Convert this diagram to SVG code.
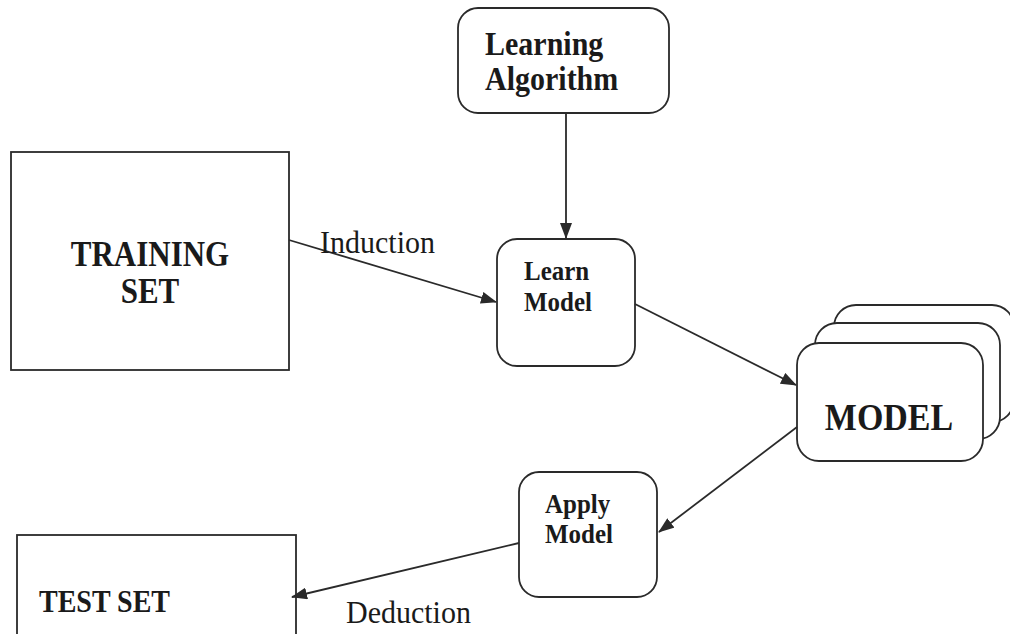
<svg xmlns="http://www.w3.org/2000/svg" width="1010" height="634" viewBox="0 0 1010 634">
<style>
.box{fill:#fff;stroke:#2a2a2a;stroke-width:1.8}
.edge{stroke:#2a2a2a;stroke-width:1.8;fill:none}
.b{font-family:"Liberation Serif",serif;font-weight:bold;fill:#1a1a1a}
.r{font-family:"Liberation Serif",serif;fill:#1a1a1a}
</style>
<defs>
<marker id="ah" viewBox="0 0 16 12" refX="15" refY="6" markerWidth="16" markerHeight="12" markerUnits="userSpaceOnUse" orient="auto">
<path d="M0,0 L16,6 L0,12 Z" fill="#2a2a2a"/>
</marker>
</defs>
<rect width="1010" height="634" fill="#fff"/>
<g id="learning-algorithm">
<rect class="box" x="458" y="8" width="211" height="105" rx="20"/>
<text class="b" transform="translate(485,55) scale(1,1.12)" font-size="30">Learning</text>
<text class="b" transform="translate(485,90) scale(1,1.12)" font-size="30">Algorithm</text>
</g>
<g id="training-set">
<rect class="box" x="11" y="152" width="278" height="218"/>
<text class="b" transform="translate(150,266) scale(1,1.15)" font-size="31" text-anchor="middle">TRAINING</text>
<text class="b" transform="translate(150,303) scale(1,1.15)" font-size="31" text-anchor="middle">SET</text>
</g>
<g id="learn-model">
<rect class="box" x="497" y="239" width="138" height="127" rx="20"/>
<text class="b" transform="translate(524,280) scale(1,1.12)" font-size="25">Learn</text>
<text class="b" transform="translate(524,311) scale(1,1.12)" font-size="25">Model</text>
</g>
<g id="model">
<rect class="box" x="834" y="305" width="180" height="117" rx="22"/>
<rect class="box" x="815" y="323" width="185" height="116" rx="22"/>
<rect class="box" x="797" y="343" width="186" height="118" rx="22"/>
<text class="b" transform="translate(889,430) scale(1,1.12)" font-size="34" text-anchor="middle">MODEL</text>
</g>
<g id="apply-model">
<rect class="box" x="519" y="472" width="138" height="125" rx="20"/>
<text class="b" transform="translate(545,513) scale(1,1.12)" font-size="25">Apply</text>
<text class="b" transform="translate(545,543) scale(1,1.12)" font-size="25">Model</text>
</g>
<g id="test-set">
<rect class="box" x="17" y="535" width="279" height="110"/>
<text class="b" transform="translate(39,612) scale(1,1.12)" font-size="28">TEST SET</text>
</g>
<g id="connectors">
<line class="edge" x1="566" y1="113" x2="566" y2="238" marker-end="url(#ah)"/>
<line class="edge" x1="289" y1="240" x2="496" y2="302" marker-end="url(#ah)"/>
<line class="edge" x1="635" y1="304" x2="796" y2="385" marker-end="url(#ah)"/>
<line class="edge" x1="797" y1="427" x2="659" y2="532" marker-end="url(#ah)"/>
<line class="edge" x1="519" y1="543" x2="292" y2="597" marker-end="url(#ah)"/>
<text class="r" transform="translate(320,253) scale(1,1.08)" font-size="30">Induction</text>
<text class="r" transform="translate(346,623) scale(1,1.08)" font-size="30">Deduction</text>
</g>
</svg>
